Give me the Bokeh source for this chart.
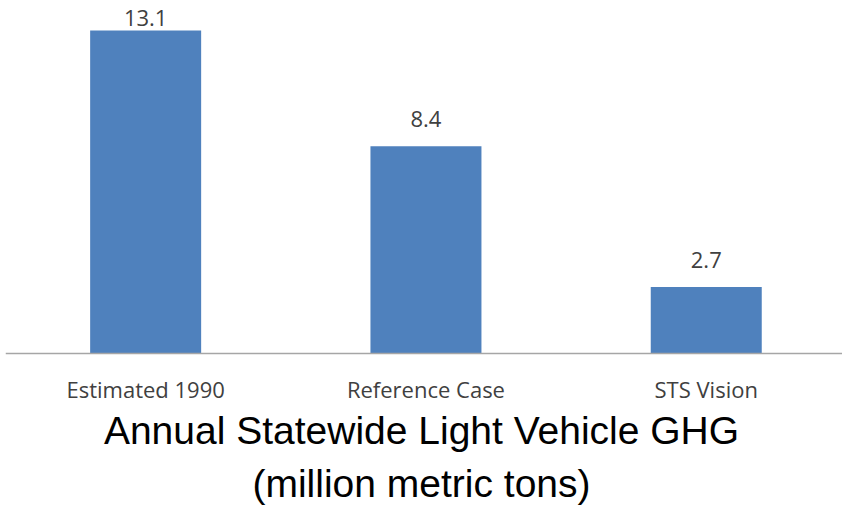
from bokeh.plotting import figure
from bokeh.models import Range1d, FixedTicker
from bokeh.embed import file_html
from bokeh.resources import INLINE
from bokeh.core.properties import value

# Annual light-vehicle GHG, million metric tons
categories = ["Estimated 1990", "Reference Case", "STS Vision"]
ghg_values = [13.1, 8.4, 2.7]
title_lines = ["Annual Statewide Light Vehicle GHG", "(million metric tons)"]

W, H = 842, 507
LEFT = 5
PX_PER_UNIT = 24.66
BASE_PX = 353          # canvas row of the zero line
CAT_PX = 280.3         # width of one category slot

xs = [i + 0.5 for i in range(len(categories))]

p = figure(width=W, height=H, output_backend="svg", toolbar_location=None,
           min_border_left=LEFT, min_border_right=0, min_border_top=0, min_border_bottom=0,
           x_range=Range1d(0, (W - LEFT) / CAT_PX),
           y_range=Range1d(-(H - BASE_PX) / PX_PER_UNIT, BASE_PX / PX_PER_UNIT))
p.outline_line_color = None
p.grid.visible = False
p.yaxis.visible = False
p.background_fill_color = "white"
p.border_fill_color = "white"

p.vbar(x=xs, top=ghg_values, width=0.396, bottom=0,
       fill_color="#4F81BD", line_color=None)

# value labels sit 19px above each bar, but are kept inside the top edge
LABEL_GAP, DIGIT_H, TOP_MARGIN = 19, 17, 8
offsets = []
for v in ghg_values:
    bar_top_px = BASE_PX - v * PX_PER_UNIT
    offsets.append(-min(LABEL_GAP, bar_top_px - TOP_MARGIN - DIGIT_H))

p.text(x=xs, y=ghg_values, text=[f"{v:.1f}" for v in ghg_values],
       y_offset=offsets, text_align="center", text_baseline="bottom",
       text_font=value("Open Sans"), text_font_size="22px", text_color="#404040")

xa = p.xaxis[0]
xa.fixed_location = 0
xa.ticker = FixedTicker(ticks=xs)
xa.major_label_overrides = {x: c for x, c in zip(xs, categories)}
xa.major_tick_line_color = None
xa.minor_tick_line_color = None
xa.axis_line_color = "#A6A6A6"
xa.axis_line_width = 1.5
xa.major_label_text_font = "Open Sans"
xa.major_label_text_font_size = "22px"
xa.major_label_text_color = "#404040"
xa.major_label_standoff = 14

mid_x = (W / 2 - LEFT) / CAT_PX
title_rows = [451, 504]
p.text(x=[mid_x] * 2, y=[(BASE_PX - r) / PX_PER_UNIT for r in title_rows], text=title_lines,
       text_align="center", text_baseline="bottom",
       text_font=value("Liberation Sans"), text_font_size="39px", text_color="black")

open("out.html", "w").write(file_html(p, INLINE))
